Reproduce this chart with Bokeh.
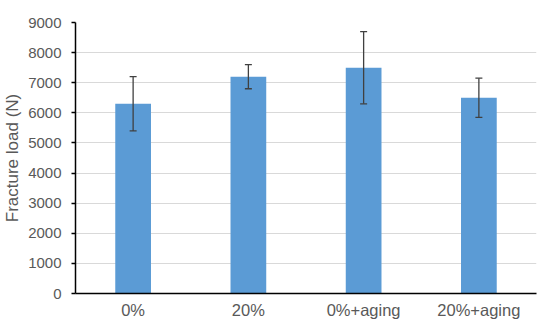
from bokeh.plotting import figure
from bokeh.models import ColumnDataSource, Whisker, TeeHead, FixedTicker, Range1d
from bokeh.embed import file_html
from bokeh.resources import INLINE

categories = ["0%", "20%", "0%+aging", "20%+aging"]
means = [6300, 7200, 7500, 6500]
sds = [900, 400, 1200, 650]
y_ticks = [0, 1000, 2000, 3000, 4000, 5000, 6000, 7000, 8000, 9000]

upper = [m + s for m, s in zip(means, sds)]
lower = [m - s for m, s in zip(means, sds)]
src = ColumnDataSource(dict(cat=categories, mean=means, upper=upper, lower=lower))

p = figure(x_range=categories, y_range=Range1d(0, 9000),
           frame_width=461, frame_height=271,
           output_backend="svg", toolbar_location=None,
           min_border_left=75, min_border_right=6, min_border_top=22, min_border_bottom=26)
p.outline_line_color = None
p.background_fill_color = "white"

p.vbar(x="cat", top="mean", width=0.31, source=src, fill_color="#5B9BD5", line_color=None)

w = Whisker(base="cat", upper="upper", lower="lower", source=src,
            line_color="#404040", line_width=1.3, level="annotation",
            upper_head=TeeHead(size=7, line_color="#404040", line_width=1.3),
            lower_head=TeeHead(size=7, line_color="#404040", line_width=1.3))
p.add_layout(w)

p.xgrid.grid_line_color = None
p.ygrid.grid_line_color = "#D9D9D9"
p.ygrid.grid_line_width = 1

p.yaxis.ticker = FixedTicker(ticks=y_ticks)
p.yaxis.axis_label = "Fracture load (N)"
p.yaxis.axis_label_text_font = "Liberation Sans"
p.yaxis.axis_label_text_font_style = "normal"
p.yaxis.axis_label_text_font_size = "17px"
p.yaxis.axis_label_text_color = "#595959"
p.yaxis.axis_label_standoff = 3
p.yaxis.major_label_text_font = "Liberation Sans"
p.yaxis.major_label_text_font_size = "15px"
p.yaxis.major_label_text_color = "#595959"
p.yaxis.axis_line_color = "black"
p.yaxis.axis_line_width = 1.5
p.yaxis.major_tick_line_color = "black"
p.yaxis.major_tick_line_width = 1.3
p.yaxis.major_tick_in = 0
p.yaxis.major_tick_out = 4
p.yaxis.minor_tick_line_color = None
p.yaxis.major_label_standoff = 10

p.xaxis.axis_line_color = "black"
p.xaxis.axis_line_width = 1.5
p.xaxis.major_tick_line_color = None
p.xaxis.minor_tick_line_color = None
p.xaxis.major_label_text_font = "Liberation Sans"
p.xaxis.major_label_text_font_size = "16.5px"
p.xaxis.major_label_text_color = "#595959"
p.xaxis.major_label_standoff = 1

open("out.html", "w").write(file_html(p, INLINE))
